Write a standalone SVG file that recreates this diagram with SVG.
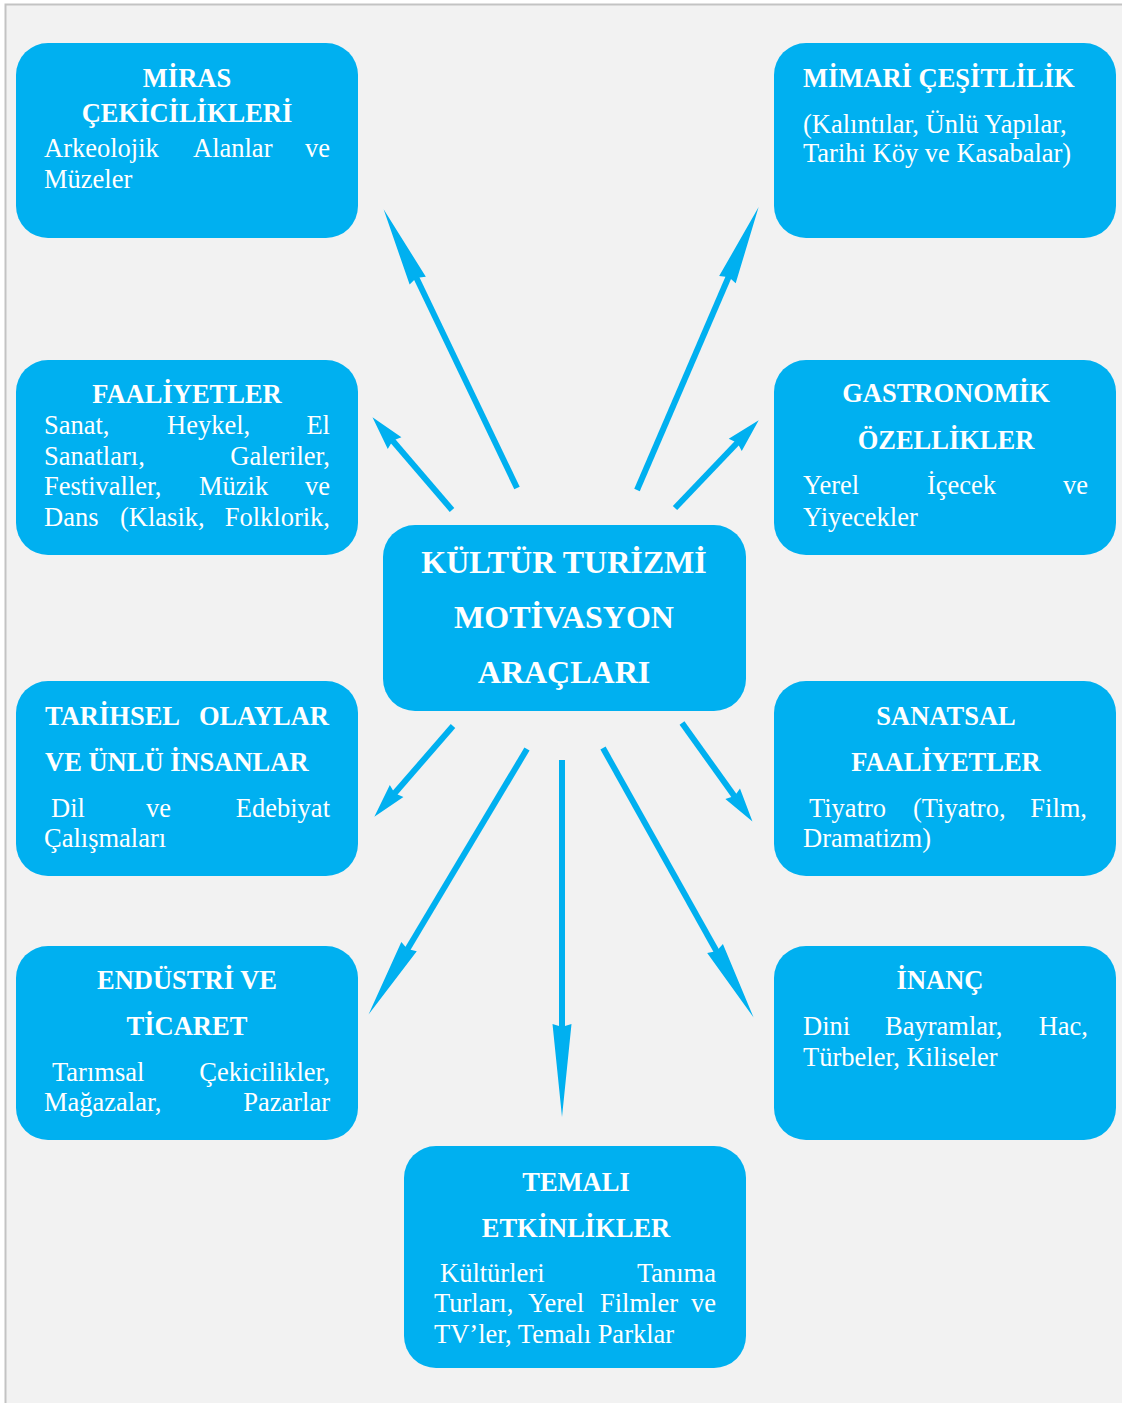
<svg xmlns="http://www.w3.org/2000/svg" width="1122" height="1403" viewBox="0 0 1122 1403">
<defs>
<style>
.box{fill:#00b0f0;}
.h{font-family:"Liberation Serif","Times New Roman",serif;font-weight:bold;font-size:26.5px;fill:#ffffff;}
.t{font-family:"Liberation Serif","Times New Roman",serif;font-size:26.5px;fill:#ffffff;}
.c{text-anchor:middle;}
.e{text-anchor:end;}
.title{font-family:"Liberation Serif","Times New Roman",serif;font-weight:bold;font-size:32px;fill:#ffffff;text-anchor:middle;}
.arr{stroke:#00b0f0;stroke-width:6;fill:none;}
.big{marker-end:url(#headL);}
.small{marker-end:url(#headS);}
.xl{marker-end:url(#headXL);}
</style>
<marker id="headL" markerUnits="userSpaceOnUse" orient="auto" refX="0" refY="0" markerWidth="90" markerHeight="24" viewBox="-5 -12 90 24" overflow="visible">
<path d="M-4,-9 L75,0 L-4,9 L-2,3 L-2,-3 Z" fill="#00b0f0"/>
</marker>
<marker id="headXL" markerUnits="userSpaceOnUse" orient="auto" refX="0" refY="0" markerWidth="100" markerHeight="24" viewBox="-5 -12 100 24" overflow="visible">
<path d="M-4,-9.5 L89,0 L-4,9.5 L-2,3 L-2,-3 Z" fill="#00b0f0"/>
</marker>
<marker id="headS" markerUnits="userSpaceOnUse" orient="auto" refX="0" refY="0" markerWidth="40" markerHeight="24" viewBox="-5 -12 40 24" overflow="visible">
<path d="M-4,-9 L30,0 L-4,9 L-2,3 L-2,-3 Z" fill="#00b0f0"/>
</marker>
</defs>
<rect x="0" y="0" width="1122" height="1403" fill="#ffffff"/>
<rect x="5.5" y="4.5" width="1130" height="1410" fill="#f2f2f2" stroke="#c3c3c3" stroke-width="2"/>

<g id="connectors">
<line class="arr big" x1="517" y1="488" x2="416" y2="277"/>
<line class="arr big" x1="637" y1="490" x2="729" y2="276"/>
<line class="arr small" x1="452" y1="510" x2="392" y2="440"/>
<line class="arr small" x1="675" y1="508" x2="738" y2="442"/>
<line class="arr small" x1="453" y1="726" x2="394" y2="794"/>
<line class="arr big" x1="527" y1="749" x2="407" y2="950"/>
<line class="arr xl" x1="562" y1="760" x2="562" y2="1028"/>
<line class="arr big" x1="603" y1="748" x2="717" y2="952"/>
<line class="arr small" x1="682" y1="723" x2="735" y2="797"/>
</g>

<g id="miras">
<rect class="box" x="16" y="43" width="342" height="195" rx="32"/>
<text class="h c" x="187" y="87">MİRAS</text>
<text class="h c" x="187" y="122">ÇEKİCİLİKLERİ</text>
<text class="t" x="44" y="157">Arkeolojik</text>
<text class="t" x="193" y="157">Alanlar</text>
<text class="t e" x="330" y="157">ve</text>
<text class="t" x="44" y="188">Müzeler</text>
</g>

<g id="mimari">
<rect class="box" x="774" y="43" width="342" height="195" rx="32"/>
<text class="h" x="803" y="87">MİMARİ ÇEŞİTLİLİK</text>
<text class="t" x="803" y="133">(Kalıntılar, Ünlü Yapılar,</text>
<text class="t" x="803" y="162">Tarihi Köy ve Kasabalar)</text>
</g>

<g id="faaliyetler">
<rect class="box" x="16" y="360" width="342" height="195" rx="32"/>
<text class="h c" x="187" y="403">FAALİYETLER</text>
<text class="t" x="44" y="434">Sanat,</text>
<text class="t" x="167" y="434">Heykel,</text>
<text class="t e" x="330" y="434">El</text>
<text class="t" x="44" y="465">Sanatları,</text>
<text class="t e" x="330" y="465">Galeriler,</text>
<text class="t" x="44" y="495">Festivaller,</text>
<text class="t" x="199" y="495">Müzik</text>
<text class="t e" x="330" y="495">ve</text>
<text class="t" x="44" y="526">Dans</text>
<text class="t" x="120" y="526">(Klasik,</text>
<text class="t e" x="330" y="526">Folklorik,</text>
</g>

<g id="gastronomik">
<rect class="box" x="774" y="360" width="342" height="195" rx="32"/>
<text class="h c" x="946" y="402">GASTRONOMİK</text>
<text class="h c" x="946" y="449">ÖZELLİKLER</text>
<text class="t" x="803" y="494">Yerel</text>
<text class="t" x="927" y="494">İçecek</text>
<text class="t e" x="1088" y="494">ve</text>
<text class="t" x="803" y="526">Yiyecekler</text>
</g>

<g id="merkez">
<rect class="box" x="383" y="525" width="363" height="186" rx="32"/>
<text class="title" x="564" y="573">KÜLTÜR TURİZMİ</text>
<text class="title" x="564" y="628">MOTİVASYON</text>
<text class="title" x="564" y="683">ARAÇLARI</text>
</g>

<g id="tarihsel">
<rect class="box" x="16" y="681" width="342" height="195" rx="32"/>
<text class="h" x="45" y="725">TARİHSEL</text>
<text class="h e" x="329" y="725">OLAYLAR</text>
<text class="h" x="45" y="771">VE ÜNLÜ İNSANLAR</text>
<text class="t" x="51" y="817">Dil</text>
<text class="t" x="146" y="817">ve</text>
<text class="t e" x="330" y="817">Edebiyat</text>
<text class="t" x="44" y="847">Çalışmaları</text>
</g>

<g id="sanatsal">
<rect class="box" x="774" y="681" width="342" height="195" rx="32"/>
<text class="h c" x="946" y="725">SANATSAL</text>
<text class="h c" x="946" y="771">FAALİYETLER</text>
<text class="t" x="809" y="817">Tiyatro</text>
<text class="t" x="913" y="817">(Tiyatro,</text>
<text class="t e" x="1087" y="817">Film,</text>
<text class="t" x="803" y="847">Dramatizm)</text>
</g>

<g id="endustri">
<rect class="box" x="16" y="946" width="342" height="194" rx="32"/>
<text class="h c" x="187" y="989">ENDÜSTRİ VE</text>
<text class="h c" x="187" y="1035">TİCARET</text>
<text class="t" x="52" y="1081">Tarımsal</text>
<text class="t e" x="330" y="1081">Çekicilikler,</text>
<text class="t" x="44" y="1111">Mağazalar,</text>
<text class="t e" x="330" y="1111">Pazarlar</text>
</g>

<g id="inanc">
<rect class="box" x="774" y="946" width="342" height="194" rx="32"/>
<text class="h c" x="940" y="989">İNANÇ</text>
<text class="t" x="803" y="1035">Dini</text>
<text class="t" x="885" y="1035">Bayramlar,</text>
<text class="t e" x="1088" y="1035">Hac,</text>
<text class="t" x="803" y="1066">Türbeler, Kiliseler</text>
</g>

<g id="temali">
<rect class="box" x="404" y="1146" width="342" height="222" rx="32"/>
<text class="h c" x="576" y="1191">TEMALI</text>
<text class="h c" x="576" y="1237">ETKİNLİKLER</text>
<text class="t" x="440" y="1282">Kültürleri</text>
<text class="t e" x="716" y="1282">Tanıma</text>
<text class="t" x="434" y="1312">Turları,</text>
<text class="t" x="528" y="1312">Yerel</text>
<text class="t" x="600" y="1312">Filmler</text>
<text class="t e" x="716" y="1312">ve</text>
<text class="t" x="434" y="1343">TV’ler, Temalı Parklar</text>
</g>
</svg>
